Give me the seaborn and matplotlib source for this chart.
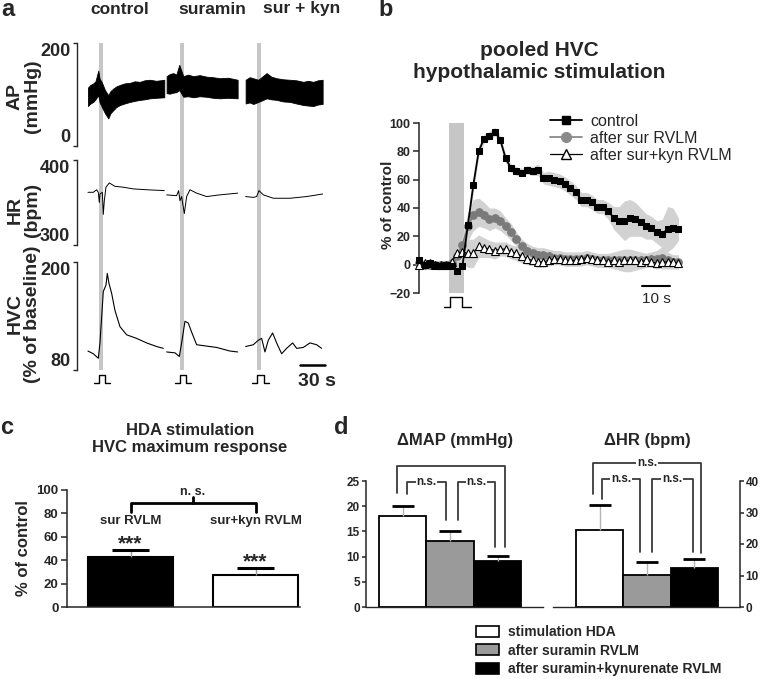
import matplotlib
matplotlib.use('Agg')
import matplotlib.pyplot as plt
from matplotlib.patches import Patch
from matplotlib.lines import Line2D
import seaborn as sns

W, H = 761, 679

# ------------------------------------------------------------------
# panel a - example recordings (time in s, one list per recording)
# ------------------------------------------------------------------
trace_titles = ['control', 'suramin', 'sur + kyn']
stim_a = [12.8, 110.0, 203.4]

ap_t = [[0, 3, 6.4, 9, 12.4, 14, 16.4, 20.4, 24.4, 27, 30.4, 34, 38.4, 44, 50.4, 56, 62.4, 68,
         74.4, 82, 91.6],
        [94.4, 98, 102.4, 106, 109.6, 114.4, 120, 126.4, 134, 142.4, 150, 158.4, 168, 179.6],
        [189.2, 194, 198.4, 204.4, 209, 214.4, 220, 226.4, 234, 242.4, 250, 258.4, 264, 270.4,
         276, 281.6]]
ap_hi = [[113, 118, 121, 125, 146, 130, 124, 108, 98, 106, 111, 115, 118, 121, 122, 125, 124,
          127, 128, 126, 128],
         [135, 139, 141, 138, 157, 135, 138, 135, 137, 134, 133, 131, 132, 128],
         [128, 133, 131, 128, 134, 141, 134, 131, 129, 128, 127, 124, 126, 124, 127, 128]]
ap_lo = [[77, 82, 85, 90, 98, 84, 76, 63, 53, 63, 69, 75, 79, 82, 85, 87, 89, 90, 92, 93, 94],
         [102, 101, 103, 104, 108, 95, 96, 94, 96, 95, 93, 92, 93, 92],
         [82, 84, 81, 85, 88, 92, 90, 89, 86, 85, 82, 79, 78, 77, 80, 81]]

hr_t = [[0, 6.4, 10.4, 12.4, 13.6, 14.4, 17.2, 18.4, 19.6, 21.6, 25.6, 32.4, 42.4, 54.4, 70.4, 91.6],
        [94.4, 106.4, 108.8, 110.4, 112.4, 115.6, 118.4, 122.4, 130.4, 142.4, 158.4, 179.6],
        [189.2, 198.4, 202.4, 205.2, 210.4, 222.4, 242.4, 262.4, 281.6]]
hr_v = [[362, 362, 365, 362, 350, 360, 362, 336, 352, 368, 373, 369, 368, 366, 365, 364],
        [359, 358, 364, 352, 357, 337, 357, 365, 361, 357, 359, 361],
        [357, 356, 357, 364, 359, 355, 355, 357, 360]]

hvc_t = [[0, 6.4, 12.4, 14.4, 18.4, 21.6, 23.2, 25.2, 28.4, 32.4, 38.4, 46.4, 58.4, 70.4, 82.4, 90.4],
         [94.4, 104.4, 109.6, 112.4, 116.4, 120.4, 124.4, 130.4, 138.4, 154.4, 170.4, 179.6],
         [189.2, 198.4, 204.4, 208.4, 212.4, 216.4, 221.6, 226.4, 232.4, 238.4, 245.6, 250.4,
          258.4, 266.4, 274.4, 280.4]]
hvc_v = [[101, 98, 93, 110, 167, 174, 187, 176, 165, 146, 128, 119, 115, 110, 106, 104],
         [100, 99, 95, 110, 134, 132, 122, 108, 107, 105, 101, 100],
         [106, 108, 113, 115, 100, 113, 121, 110, 98, 104, 110, 104, 105, 110, 108, 104]]

# ------------------------------------------------------------------
# panel b - pooled HVC, % of control
# ------------------------------------------------------------------
t_b = [-11, -9, -7, -5, -3, -1, 1, 3, 5, 7, 9, 11, 13, 15, 17, 19, 21, 23, 25, 27,
       29, 31, 33, 35, 37, 39, 41, 43, 45, 47, 49, 51, 53, 55, 57, 59, 61, 63, 65, 67,
       69, 71, 73, 75, 77, 79, 81, 83, 85]
ctrl_b = [3, 0, 1, 0, -1, 0, -1, -4.5, -1, 28, 56, 80, 89, 91, 94, 88, 75, 68, 66, 65,
          67, 66, 67, 61, 61, 60, 59, 57, 54, 51, 46, 46, 44, 41, 41, 38, 33, 31, 31, 33,
          32, 30, 27, 26, 23, 22, 25, 26, 25]
ctrl_b_sem = [2, 2, 2, 2, 2, 2, 2, 2, 2, 4, 5, 4, 3, 3, 3, 3, 3, 3, 3, 3,
              3, 3, 4, 4, 5, 5, 5, 5, 5, 5, 5, 5, 5, 5, 5, 6, 8, 10, 14, 13,
              12, 10, 9, 8, 8, 10, 16, 14, 8]
sur_b = [1, 0, 0, 0, 0, 0, 1, 6, 14, 27, 35, 37, 35, 32, 33, 31, 27, 23, 18, 13,
         10, 8, 7, 7, 6, 5, 5, 4, 4, 4, 4, 5, 4, 3, 3, 3, 3, 3, 3, 3,
         3, 3, 3, 4, 4, 5, 3, 2, 2]
sur_b_sem = [3, 3, 3, 3, 3, 3, 3, 5, 7, 10, 11, 10, 9, 8, 7, 7, 6, 6, 5, 5,
             5, 5, 5, 5, 5, 5, 5, 5, 5, 5, 5, 5, 5, 5, 5, 5, 6, 7, 8, 8,
             7, 6, 5, 5, 6, 8, 6, 5, 5]
kyn_b = [0, 1, 1, 0, 0, 0, 2, 8, 9, 8, 8, 13, 12, 11, 10, 11, 11, 9, 8, 6,
         4, 3, 2, 2, 3, 4, 4, 3, 3, 3, 4, 5, 4, 3, 3, 2, 3, 2, 3, 3,
         3, 2, 3, 2, 1, 2, 2, 2, 1]
kyn_b_sem = [2, 2, 2, 2, 2, 2, 3, 5, 8, 10, 10, 8, 7, 6, 6, 5, 5, 5, 5, 5,
             4, 4, 4, 4, 4, 4, 4, 4, 4, 4, 4, 4, 4, 4, 4, 4, 4, 4, 4, 4,
             4, 4, 4, 4, 4, 4, 4, 4, 4]
b_labels = ['control', 'after sur RVLM', 'after sur+kyn RVLM']

# ------------------------------------------------------------------
# panel c - HVC maximum response
# ------------------------------------------------------------------
c_groups = ['sur RVLM', 'sur+kyn RVLM']
c_mean = [43, 27.5]
c_sem = [5.4, 5.9]

# ------------------------------------------------------------------
# panel d - MAP / HR responses
# ------------------------------------------------------------------
d_groups = ['stimulation HDA', 'after suramin RVLM', 'after suramin+kynurenate RVLM']
map_mean = [18, 13, 9.1]
map_sem = [2.0, 2.0, 1.0]
hr_mean = [24.5, 10.2, 12.4]
hr_sem = [8.0, 4.0, 2.9]
d_colors = ['white', '#9a9a9a', 'black']

# ------------------------------------------------------------------
sns.set_style('ticks')
plt.rcParams['font.family'] = ['Liberation Sans', 'DejaVu Sans']
plt.rcParams['font.weight'] = 'bold'
plt.rcParams['axes.labelweight'] = 'bold'
plt.rcParams['axes.linewidth'] = 1.1
NARROW = ['Liberation Sans Narrow', 'Liberation Sans', 'DejaVu Sans']

fig = plt.figure(figsize=(W / 100, H / 100), dpi=100)


def add_ax(x0, y0, x1, y1):
    return fig.add_axes([x0 / W, 1 - y1 / H, (x1 - x0) / W, (y1 - y0) / H])


def ftext(x, y, s, **kw):
    kw.setdefault('ha', 'center')
    kw.setdefault('va', 'center')
    fig.text(x / W, 1 - y / H, s, **kw)


# ---------------- panel a ----------------
XL_A = (-12.8, 290.2)
ax_bg = add_ax(77.3, 42.7, 329.8, 370)
ax_bg.set_xlim(*XL_A)
ax_bg.set_ylim(370, 42.7)
ax_bg.axis('off')
for s in stim_a:
    ax_bg.axvspan(s, s + 4.8, color='#c6c6c6', lw=0)
    ax_bg.plot([s - 6, s, s, s + 8, s + 8, s + 14], [383, 383, 375, 375, 383, 383],
               color='black', lw=1, clip_on=False)
ax_bg.plot([254.4, 284.4], [365, 365], color='black', lw=1.8, clip_on=False)
ax_bg.text(275, 381, '30 s', ha='center', va='center', fontsize=14, family=NARROW)


def trace_axis(ax, lo, hi):
    ax.set_xlim(*XL_A)
    ax.set_ylim(lo, hi)
    ax.set_yticks([lo, hi])
    labs = ax.set_yticklabels([str(lo), str(hi)], family=NARROW, fontsize=13,
                              fontweight='bold')
    labs[0].set_va('bottom')
    labs[1].set_va('top')
    ax.set_xticks([])
    for sp in ['top', 'right', 'bottom']:
        ax.spines[sp].set_visible(False)
    ax.spines['left'].set_linewidth(1.0)
    ax.tick_params(axis='y', length=3, width=1, pad=2)
    ax.patch.set_visible(False)


ax_ap = add_ax(77.3, 42.7, 329.8, 145.7)
for t, lo, hi in zip(ap_t, ap_lo, ap_hi):
    ax_ap.fill_between(t, lo, hi, color='black', lw=0.6)
trace_axis(ax_ap, 0, 200)

ax_hr = add_ax(77.3, 160, 329.8, 245)
for t, v in zip(hr_t, hr_v):
    ax_hr.plot(t, v, color='black', lw=0.7)
trace_axis(ax_hr, 300, 400)

ax_hvc = add_ax(77.3, 261.7, 329.8, 370)
for t, v in zip(hvc_t, hvc_v):
    ax_hvc.plot(t, v, color='black', lw=0.8)
trace_axis(ax_hvc, 80, 200)

for name, x in zip(trace_titles, [120, 212, 302]):
    ftext(x, 9, name, fontsize=12.5)
ftext(24, 96, 'AP\n(mmHg)', rotation=90, fontsize=14, family=NARROW, linespacing=1.0)
ftext(24, 210, 'HR\n(bpm)', rotation=90, fontsize=14, family=NARROW, linespacing=1.0)
ftext(24, 314, 'HVC\n(% of baseline)', rotation=90, fontsize=14, family=NARROW,
      linespacing=1.0)
ftext(8, 10, 'a', fontsize=17)

# ---------------- panel b ----------------
ax_b = add_ax(419, 123, 683.6, 293)
ax_b.set_xlim(-11.1, 86.9)
ax_b.set_ylim(-20, 100)
ax_b.axvspan(0, 5.5, color='#c6c6c6', lw=0, zorder=0)
band = '#d2d2d2'
for mean, sem in [(ctrl_b, ctrl_b_sem), (sur_b, sur_b_sem), (kyn_b, kyn_b_sem)]:
    ax_b.fill_between(t_b, [m - e for m, e in zip(mean, sem)],
                      [m + e for m, e in zip(mean, sem)], color=band, lw=0, zorder=1)
sns.lineplot(x=t_b, y=sur_b, ax=ax_b, color='#7a7a7a', lw=1.3, marker='o',
             markersize=5.5, markeredgecolor='#7a7a7a', zorder=3, clip_on=False)
sns.lineplot(x=t_b, y=kyn_b, ax=ax_b, color='black', lw=0.8, marker='^',
             markersize=6, markerfacecolor='white', markeredgecolor='black',
             markeredgewidth=0.8, zorder=4, clip_on=False)
sns.lineplot(x=t_b, y=ctrl_b, ax=ax_b, color='black', lw=1.3, marker='s',
             markersize=4.8, markeredgecolor='black', zorder=5, clip_on=False)
ax_b.set_yticks(range(-20, 101, 20))
ax_b.set_xticks([])
for sp in ['top', 'right', 'bottom']:
    ax_b.spines[sp].set_visible(False)
ax_b.tick_params(axis='y', labelsize=9, length=4, width=1.1, pad=2)
ax_b.set_ylabel('')
ax_b.plot([0.4, 0.4, 4.7, 4.7], [-29.6, -22.6, -22.6, -29.6], color='black', lw=1,
          clip_on=False)
ax_b.plot([-2, 0.4], [-29.6, -29.6], color='black', lw=1, clip_on=False)
ax_b.plot([4.7, 8], [-29.6, -29.6], color='black', lw=1, clip_on=False)
ax_b.plot([71.5, 82], [-14.8, -14.8], color='black', lw=1.5, clip_on=False)
ax_b.text(76.7, -24, '10 s', ha='center', va='center', fontsize=11, fontweight='normal')
handles = [
    Line2D([], [], color='black', lw=1.3, marker='s', ms=6, mec='black'),
    Line2D([], [], color='#8a8a8a', lw=1.3, marker='o', ms=7, mec='#8a8a8a'),
    Line2D([], [], color='black', lw=0.9, marker='^', ms=7, mfc='white', mec='black'),
]
ax_b.legend(handles, b_labels, loc='upper left', bbox_to_anchor=(550 / W, 1 - 114 / H),
            bbox_transform=fig.transFigure, frameon=False, handlelength=2.0,
            handletextpad=0.5, labelspacing=0.12, borderpad=0, borderaxespad=0,
            prop={'size': 11.5, 'weight': 'normal'})
ftext(539, 62, 'pooled HVC\nhypothalamic stimulation', fontsize=15, linespacing=1.2)
ftext(388, 205, '% of control', rotation=90, fontsize=11, fontweight='bold')
ftext(386, 10, 'b', fontsize=17)

# ---------------- panel c ----------------
ax_c = add_ax(67, 490, 300, 607)
sns.barplot(x=c_groups, y=c_mean, hue=c_groups, palette=['black', 'white'], width=0.68,
            edgecolor='black', linewidth=1.5, saturation=1, legend=False, ax=ax_c)
ax_c.set_xlim(-0.508, 1.356)
ax_c.set_ylim(0, 100)
ax_c.set_yticks(range(0, 101, 20))
ax_c.set_xticks([])
ax_c.set_xlabel('')
ax_c.set_ylabel('% of control', fontsize=12, fontweight='bold', labelpad=4)
ax_c.spines['top'].set_visible(False)
ax_c.spines['right'].set_visible(False)
ax_c.tick_params(axis='y', labelsize=9.5, length=4, width=1.1, pad=2)
for i, (m, e) in enumerate(zip(c_mean, c_sem)):
    ax_c.vlines(i, m, m + e, color='#9a9a9a', lw=1)
    ax_c.hlines(m + e, i - 0.15, i + 0.15, color='black', lw=2.2)
    ax_c.text(i, m + e + 0.5, '***', ha='center', va='baseline', fontsize=15)
    ax_c.text(i, 73.4, c_groups[i], ha='center', va='center', fontsize=9.5)
ax_c.plot([0, 0, 1, 1], [81.4, 89, 89, 81.4], color='black', lw=2, clip_on=False)
ax_c.plot([0.5, 0.5], [89, 94.4], color='black', lw=2, clip_on=False)
ax_c.text(0.5, 98.5, 'n. s.', ha='center', va='center', fontsize=9)
ftext(190, 439, 'HDA stimulation\nHVC maximum response', fontsize=12, linespacing=1.1)
ftext(7, 427, 'c', fontsize=17)

# ---------------- panel d ----------------
map_brackets = [(-0.13, 2.16, 22.6, 12.0, 28.0, '*'),
                (0.09, 0.91, 22.4, 17.3, 24.9, 'n.s.'),
                (1.16, 1.95, 17.3, 11.9, 24.9, 'n.s.')]
hr_brackets = [(-0.135, 2.135, 35.8, 17.3, 45.8, 'n.s.'),
               (0.055, 0.852, 34.2, 17.4, 40.6, 'n.s.'),
               (1.10, 1.966, 17.4, 17.4, 40.6, 'n.s.')]


def d_panel(ax, mean, sem, brackets, top, xl):
    sns.barplot(x=d_groups, y=mean, hue=d_groups, palette=d_colors, width=1.0,
                edgecolor='black', linewidth=1.3, saturation=1, legend=False, ax=ax)
    ax.set_xlim(*xl)
    ax.set_ylim(0, top)
    ax.set_xticks([])
    ax.set_xlabel('')
    ax.spines['top'].set_visible(False)
    ax.spines['bottom'].set_linewidth(1.0)
    ax.tick_params(axis='y', labelsize=8.5, length=3, width=1.1, pad=1.5)
    for i, (m, e) in enumerate(zip(mean, sem)):
        ax.vlines(i, m, m + e, color='#b5b5b5', lw=1)
        ax.hlines(m + e, i - 0.23, i + 0.23, color='black', lw=2)
    for x0, x1, l0, l1, lev, lab in brackets:
        ax.plot([x0, x0, x1, x1], [l0, lev, lev, l1], color='#3a3a3a', lw=1.3,
                clip_on=False)
        if lab == '*':
            ax.annotate(lab, ((x0 + x1) / 2, lev), xytext=(0, -9), textcoords='offset points',
                        ha='center', va='baseline', fontsize=16,
                        bbox=dict(fc='white', ec='none', pad=0.5))
        else:
            ax.text((x0 + x1) / 2, lev, lab, ha='center', va='center', fontsize=8.5,
                    bbox=dict(fc='white', ec='none', pad=0.6))


ax_m = add_ax(366, 481, 543, 607)
d_panel(ax_m, map_mean, map_sem, map_brackets, 25, (-0.773, 2.954))
ax_m.spines['right'].set_visible(False)
ax_m.set_yticks(range(0, 26, 5))

ax_h = add_ax(553, 481, 739.5, 607)
d_panel(ax_h, hr_mean, hr_sem, hr_brackets, 40, (-0.987, 2.954))
ax_h.spines['left'].set_visible(False)
ax_h.yaxis.tick_right()
ax_h.set_yticks(range(0, 41, 10))

ftext(455, 441, '\u0394MAP (mmHg)', fontsize=12)
ftext(647, 441, '\u0394HR (bpm)', fontsize=12)
ftext(341, 427, 'd', fontsize=17)

leg_handles = [Patch(facecolor=c, edgecolor='black', lw=1.2) for c in d_colors]
fig.legend(leg_handles, d_groups, loc='upper left', bbox_to_anchor=(476 / W, 1 - 625 / H),
           frameon=False, handlelength=1.65, handleheight=0.85, handletextpad=0.65,
           labelspacing=0.33, borderpad=0, borderaxespad=0, prop={'size': 10, 'weight': 'bold'})

fig.savefig('out.png', dpi=100)
